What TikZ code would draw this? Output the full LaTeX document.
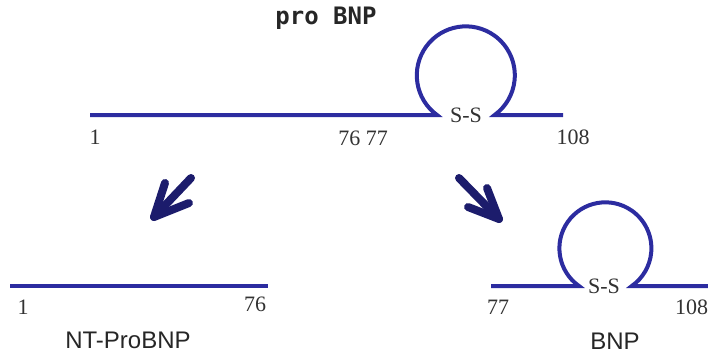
\documentclass[tikz,border=0pt]{standalone}
\usepackage{fontspec}
\setmainfont{Liberation Serif}
\setsansfont{Liberation Sans}
\setmonofont{DejaVu Sans Mono}
\definecolor{chain}{RGB}{44,44,160}
\definecolor{arr}{RGB}{28,28,108}
\definecolor{txt}{RGB}{50,50,50}
\tikzset{
  chainline/.style={draw=chain, line width=4pt, line join=miter},
  bigarrow/.style={draw=arr, line width=8pt, line cap=round, line join=round},
  num/.style={font=\fontsize{22}{22}\selectfont, text=txt, inner sep=0pt},
  ss/.style={font=\fontsize{22}{22}\selectfont, text=txt, inner sep=0pt},
  lab/.style={font=\sffamily\fontsize{24}{24}\selectfont, text=black!85, inner sep=0pt},
}
\begin{document}
\begin{tikzpicture}[x=1pt,y=1pt]
\useasboundingbox (0,0) rectangle (708,354);
% pro BNP chain
\node[font=\ttfamily\bfseries\fontsize{24}{24}\selectfont, text=black!85, inner sep=0pt] (title) at (326,336) {pro BNP};
\coordinate (a1) at (90,239);
\coordinate (a2) at (437,239);
\coordinate (a3) at (563,239);
\draw[chainline] (a1) -- (a2) arc[start angle=234, end angle=-54, radius=49] -- (a3);
\node[ss] (ss1) at (466,239) {S-S};
\node[num] (n1) at (95,217) {1};
\node[num] (n7677) at (363,216) {76 77};
\node[num] (n108a) at (573,217) {108};
% left arrow
\coordinate (la1) at (191,176);
\coordinate (la2) at (154,137);
\coordinate (lb1) at (165,171);
\coordinate (lb2) at (189,151);
\draw[bigarrow] (la1) -- (la2);
\draw[bigarrow] (lb1) -- (la2) -- (lb2);
% right arrow
\coordinate (ra1) at (459,176);
\coordinate (ra2) at (499,135);
\coordinate (rb1) at (487,166);
\coordinate (rb2) at (468,147);
\draw[bigarrow] (ra1) -- (ra2);
\draw[bigarrow] (rb1) -- (ra2) -- (rb2);
% NT-ProBNP
\coordinate (b1) at (10,68);
\coordinate (b2) at (268,68);
\draw[chainline] (b1) -- (b2);
\node[num] (n1b) at (23,47) {1};
\node[num] (n76) at (255,50) {76};
\node[lab] (ntp) at (128,14) {NT-ProBNP};
% BNP
\coordinate (c1) at (491,68);
\coordinate (c2) at (579,68);
\coordinate (c3) at (708,68);
\draw[chainline] (c1) -- (c2) arc[start angle=235, end angle=-55, radius=46] -- (c3);
\node[ss] (ss2) at (604,68) {S-S};
\node[num] (n77) at (498,47) {77};
\node[num, anchor=west] (n108b) at (675,47) {108};
\node[lab] (bnp) at (615,13) {BNP};
\end{tikzpicture}
\end{document}
